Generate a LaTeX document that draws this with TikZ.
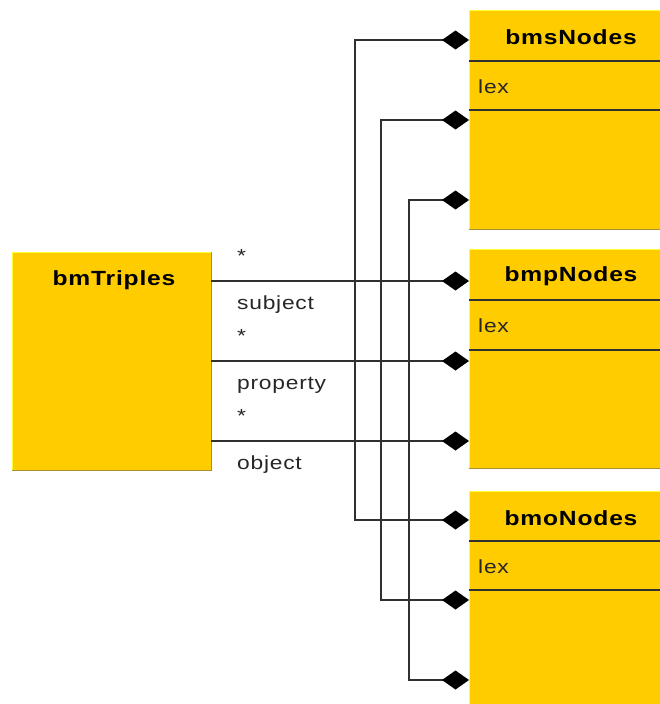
\documentclass[tikz,border=0pt]{standalone}
\usepackage{fontspec}
\setmainfont{Liberation Sans}[FakeStretch=1.2, LetterSpace=4]
\usetikzlibrary{arrows.meta}
\definecolor{classfill}{HTML}{FFCC00}
\definecolor{classhi}{HTML}{FFFF33}
\definecolor{classlo}{HTML}{A89030}
\definecolor{wire}{HTML}{303030}
\tikzset{
  classbox/.style={rectangle, fill=classfill, draw=none, inner sep=0pt, anchor=north west},
  classtitle/.style={font=\fontsize{20.5}{22}\selectfont\bfseries, text=black},
  attr/.style={font=\fontsize{19}{21}\selectfont, text=black!85, anchor=west, inner sep=0pt},
  rolelbl/.style={font=\fontsize{19}{21}\selectfont, text=black!85, anchor=west, inner sep=0pt},
  divider/.style={draw=wire, line width=2pt},
  assoc/.style={draw=wire, line width=2pt},
  aggtip/.tip={Diamond[length=27pt, width=19pt, color=black]},
}
\begin{document}
\begin{tikzpicture}[x=1pt, y=-1pt]
\useasboundingbox (0,0) rectangle (660,704);
\clip (0,0) rectangle (660,704);

% class bodies with a light top/left edge and a darker bottom/right edge
\newcommand{\umlbox}[5]{% name, x0, y0, x1, y1
  \node[classbox, minimum width=#4-#2, minimum height=#5-#3] (#1) at (#2,#3) {};
  \draw[classhi, line width=1pt] (#1.south west) -- (#1.north west) -- (#1.north east);
  \draw[classlo, line width=1.5pt] (#1.north east) -- (#1.south east) -- (#1.south west);
}
\umlbox{bmTriples}{12}{252}{211}{470}
\umlbox{bmsNodes}{469}{10}{673}{229}
\umlbox{bmpNodes}{469}{249}{673}{468}
\umlbox{bmoNodes}{469}{491}{673}{740}

% titles
\node[classtitle] (tTriples) at (114,280) {bmTriples};
\node[classtitle] (tS) at (571,37) {bmsNodes};
\node[classtitle] (tP) at (571,276) {bmpNodes};
\node[classtitle] (tO) at (571,518) {bmoNodes};

% compartments
\foreach \n/\a/\b in {bmsNodes/61/110, bmpNodes/300/350, bmoNodes/541/590}{
  \draw[divider] (\n.west |- 0,\a) -- (\n.east |- 0,\a);
  \draw[divider] (\n.west |- 0,\b) -- (\n.east |- 0,\b);
}
\node[attr] (lexS) at (478,87) {lex};
\node[attr] (lexP) at (478,326) {lex};
\node[attr] (lexO) at (478,567) {lex};

% association end points on the class boxes
\coordinate (s1) at (469,40);
\coordinate (s2) at (469,120);
\coordinate (s3) at (469,200);
\coordinate (p1) at (469,281);
\coordinate (p2) at (469,361);
\coordinate (p3) at (469,441);
\coordinate (o1) at (469,520);
\coordinate (o2) at (469,600);
\coordinate (o3) at (469,680);

% bmTriples -> bmpNodes
\draw[assoc, -aggtip] (bmTriples.east |- p1) -- (p1);
\draw[assoc, -aggtip] (bmTriples.east |- p2) -- (p2);
\draw[assoc, -aggtip] (bmTriples.east |- p3) -- (p3);

% bmsNodes <-> bmoNodes
\draw[assoc, aggtip-aggtip] (s1) -- ++(-114,0) |- (o1);
\draw[assoc, aggtip-aggtip] (s2) -- ++(-88,0) |- (o2);
\draw[assoc, aggtip-aggtip] (s3) -- ++(-60,0) |- (o3);

% role names and multiplicities
\node[rolelbl] (m1) at (237,256) {*};
\node[rolelbl] (r1) at (237,305) {subject};
\node[rolelbl] (m2) at (237,336) {*};
\node[rolelbl] (r2) at (237,385) {property};
\node[rolelbl] (m3) at (237,416) {*};
\node[rolelbl] (r3) at (237,465) {object};
\end{tikzpicture}
\end{document}
